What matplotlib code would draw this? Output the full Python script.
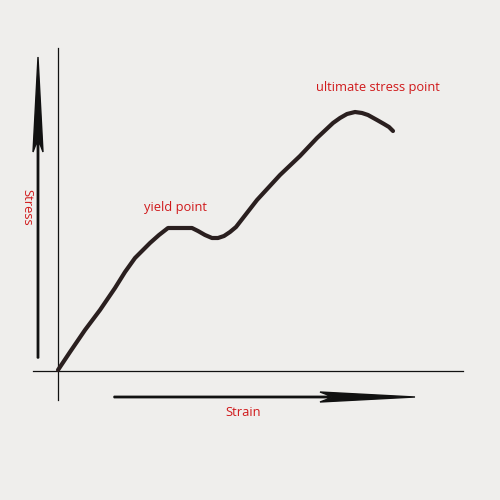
import matplotlib
matplotlib.use("Agg")
import matplotlib.pyplot as plt

# strain / stress curve, in sketch units (origin at the axes corner)
strain = [0, 12, 27, 42, 57, 67, 77, 85, 92, 101, 110, 120, 134, 140, 147, 154,
          160, 166, 172, 178, 185, 199, 222, 242, 259, 275, 282, 289, 297, 304,
          310, 319, 326, 331, 335]
stress = [0, 18, 40, 60, 82, 98, 112, 120, 127, 135, 142, 142, 142, 139, 135, 132,
          132, 134, 138, 143, 152, 170, 195, 214, 232, 247, 252, 256, 258, 257,
          255, 250, 246, 243, 239]

labels = {"yield point": (118, 162), "ultimate stress point": (320, 282)}
x_label = "Strain"
y_label = "Stress"

bg = "#efeeec"
red = "#d0191b"
ink = "#2a1f1f"

fig = plt.figure(figsize=(5, 5), dpi=100, facecolor=bg)
ax = fig.add_axes([0, 0, 1, 1])
ax.set_facecolor(bg)
ax.set_xlim(-58, 442)
ax.set_ylim(-130, 370)
ax.axis("off")

# axes lines
ax.plot([0, 0], [-30, 322], color="#111111", lw=0.9)
ax.plot([-25, 405], [-1, -1], color="#111111", lw=0.9)

# curve
ax.plot(strain, stress, color=ink, lw=3, solid_capstyle="round", solid_joinstyle="round")

# direction arrows
ax.arrow(-20, 12, 0, 301, width=1.4, head_width=10, head_length=95, overhang=0.12,
         length_includes_head=True, color="#111111")
ax.arrow(56, -27, 301, 0, width=1.4, head_width=10, head_length=95, overhang=0.12,
         length_includes_head=True, color="#111111")

fnt = ["Open Sans", "DejaVu Sans"]
for txt, (x, y) in labels.items():
    ax.text(x, y, txt, color=red, fontsize=9.3, ha="center", va="center", family=fnt)
ax.text(185, -43, x_label, color=red, fontsize=9.3, ha="center", va="center", family=fnt)
ax.text(-31, 163, y_label, color=red, fontsize=9.3, ha="center", va="center",
        rotation=270, family=fnt)

fig.savefig("out.png", dpi=100, facecolor=bg)
